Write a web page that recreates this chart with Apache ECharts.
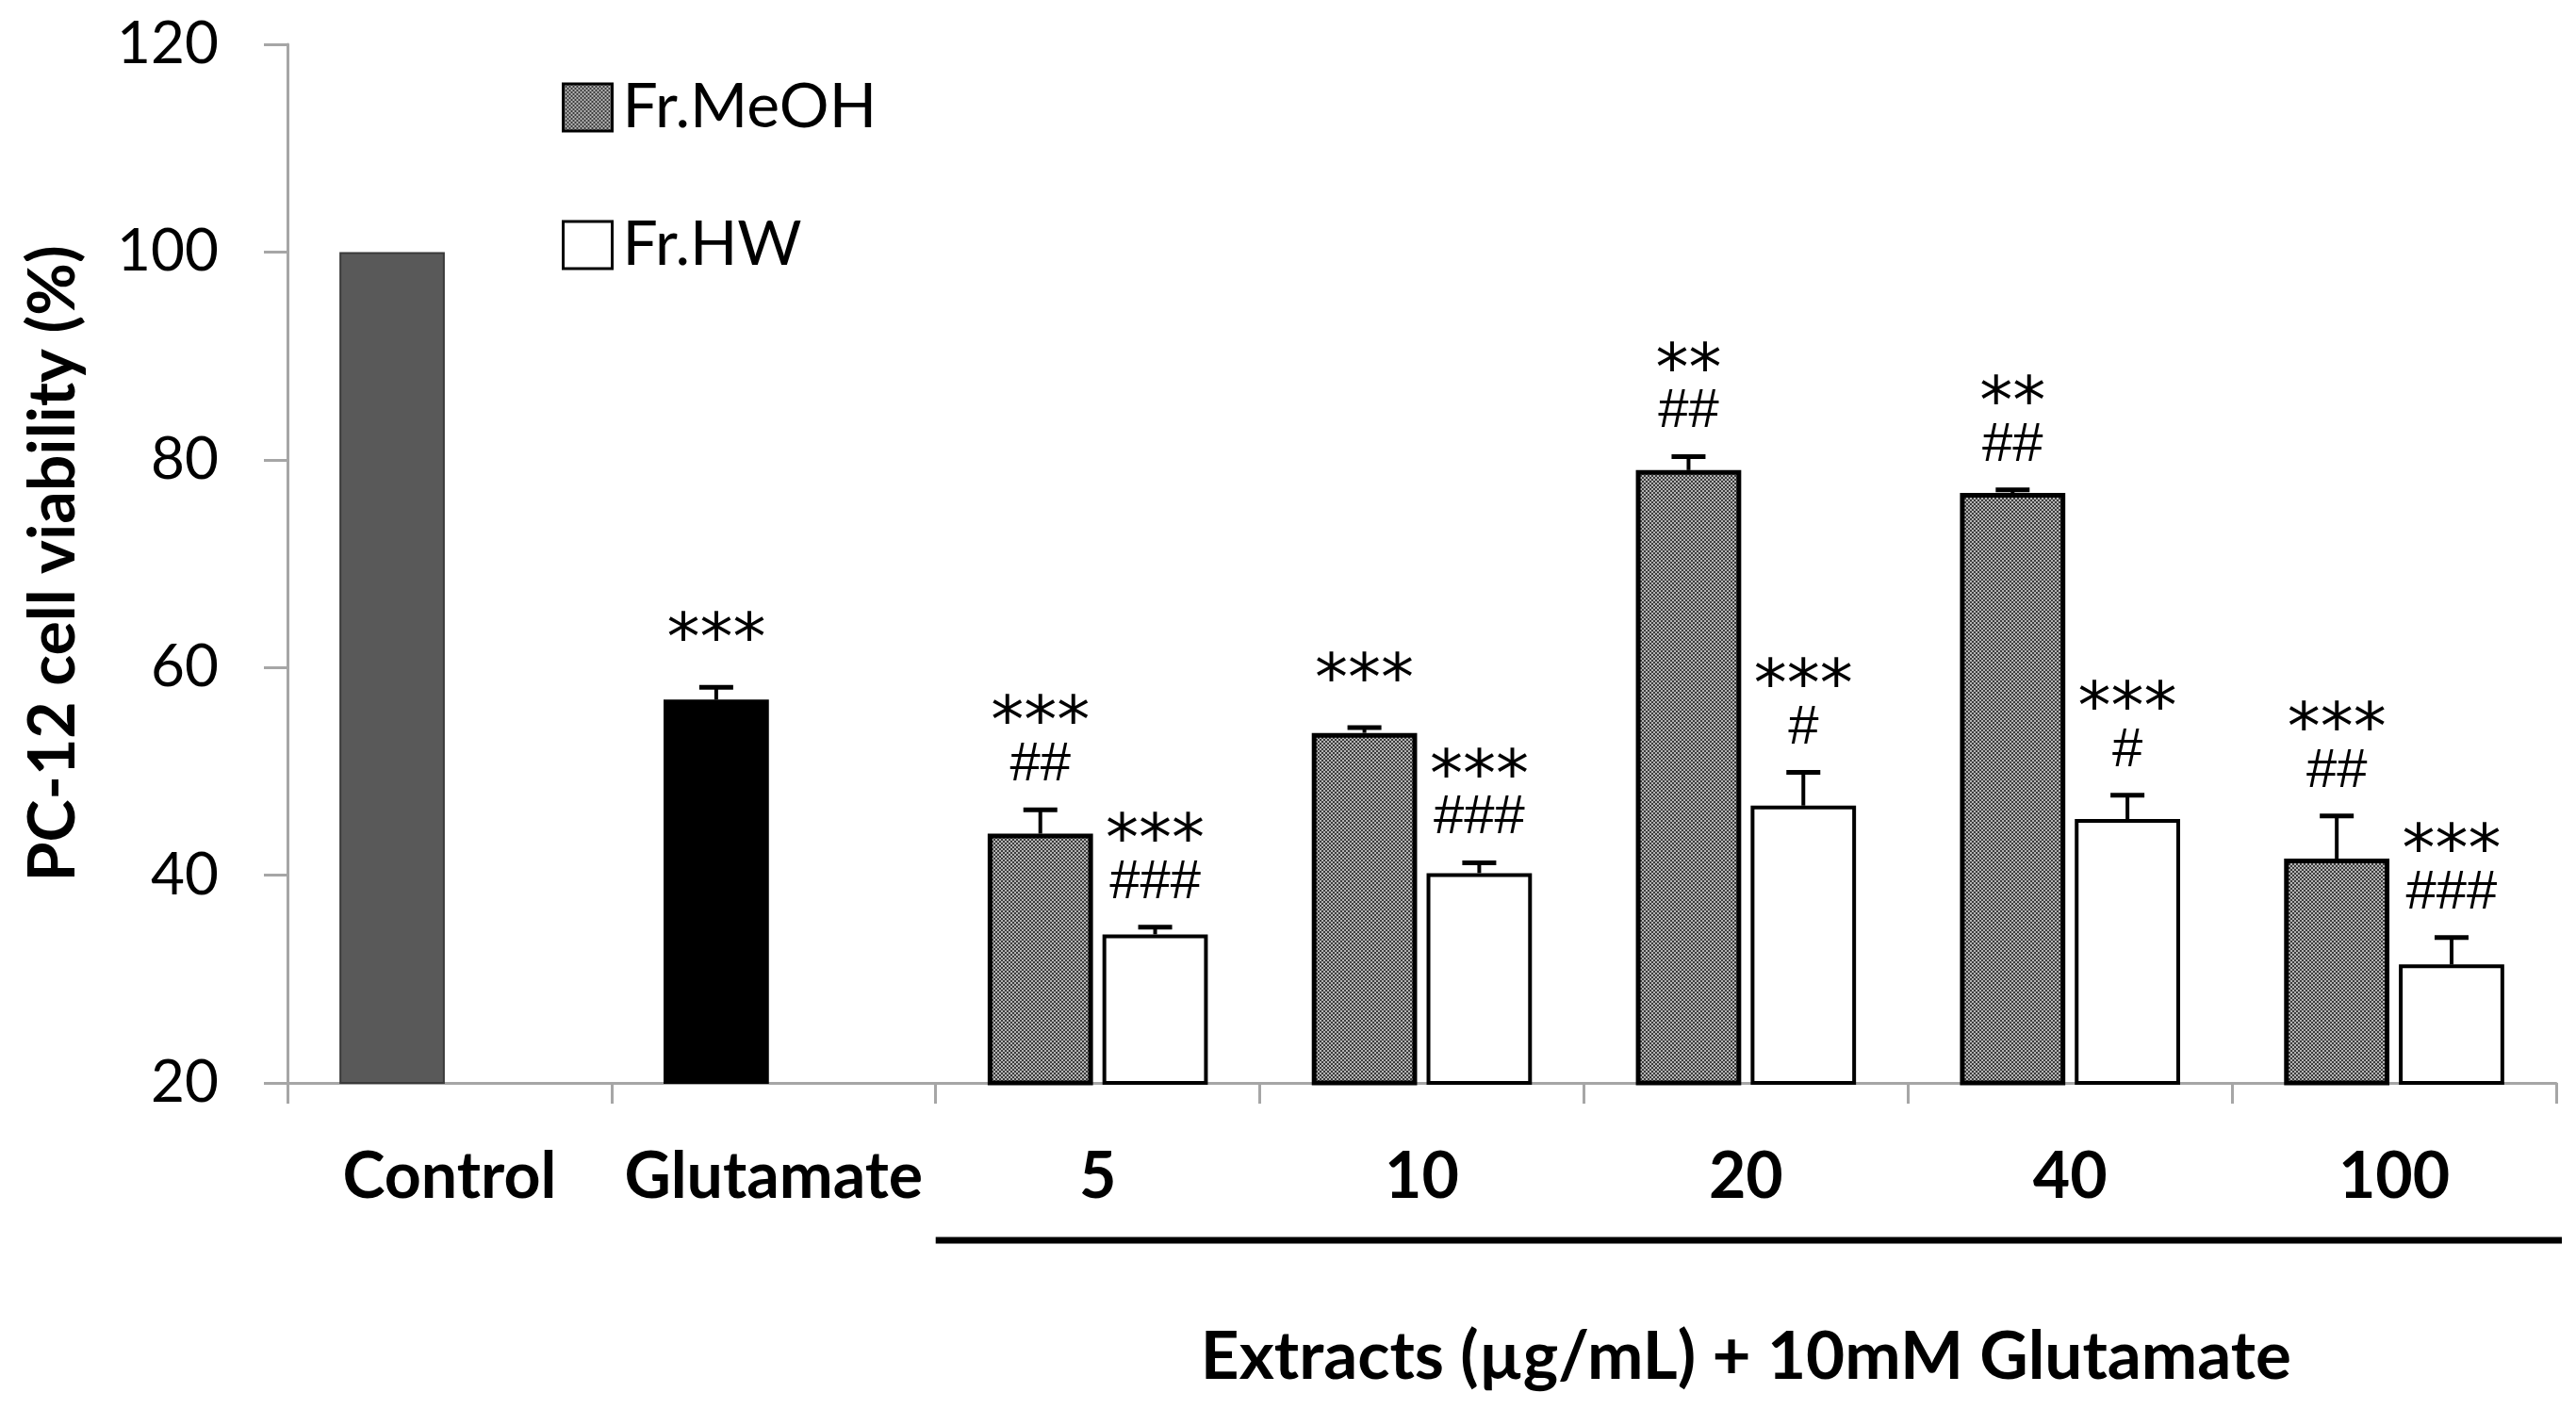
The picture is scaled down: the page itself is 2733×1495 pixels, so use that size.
<!DOCTYPE html>
<html><head><meta charset="utf-8">
<script src="https://cdn.jsdelivr.net/npm/echarts@6/dist/echarts.min.js"></script>
<style>html,body{margin:0;padding:0;background:#fff;overflow:hidden}#chart{width:2733px;height:1495px}</style>
</head><body><div id="chart"></div>
<script>
// ---- data ----
const categories = ['Control', 'Glutamate', '5', '10', '20', '40', '100'];
const meohValues = [100, 56.9, 44.0, 53.7, 79.0, 76.8, 41.6];
const meohUpper  = [null, 58.1, 46.3, 54.2, 80.3, 77.1, 45.7];
const hwValues   = [null, null, 34.3, 40.2, 46.7, 45.4, 31.4];
const hwUpper    = [null, null, 35.0, 41.2, 49.9, 47.7, 34.0];
const meohStars  = ['', '***', '***', '***', '**', '**', '***'];
const meohHashes = ['', '', '##', '', '##', '##', '##'];
const hwStars    = ['', '', '***', '***', '***', '***', '***'];
const hwHashes   = ['', '', '###', '###', '#', '#', '###'];
const yTicks = [20, 40, 60, 80, 100, 120];
const seriesNames = ['Fr.MeOH', 'Fr.HW'];
const yTitle = 'PC-12 cell viability (%)';
const xTitle = 'Extracts (µg/mL) + 10mM Glutamate';

// ---- styling constants ----
const BAR_FRAC = 0.325;   // bar width as fraction of category band
const GAP_FRAC = 0.09;    // gap between bars as fraction of bar width
const FONT = 'Lato, "Noto Sans", sans-serif';

// dotted fill pattern for Fr.MeOH
const pc = document.createElement('canvas');
pc.width = 4; pc.height = 4;
const pctx = pc.getContext('2d');
pctx.fillStyle = '#b4b4b4'; pctx.fillRect(0, 0, 4, 4);
pctx.fillStyle = '#3c3c3c';
pctx.fillRect(0, 0, 2, 2); pctx.fillRect(2, 2, 2, 2);
const pattern = { image: pc, repeat: 'repeat' };

const chart = echarts.init(document.getElementById('chart'), null, { renderer: 'canvas' });

const meohData = meohValues.map((v, i) => {
  if (i === 0) return { value: v, itemStyle: { color: '#595959', borderColor: '#3a3a3a', borderWidth: 2 } };
  if (i === 1) return { value: v, itemStyle: { color: '#000000', borderColor: '#000000', borderWidth: 2 } };
  return v;
});
const hwData = hwValues.map(v => v == null ? '-' : v);

function makeErrData(values, upper, stars, hashes) {
  const out = [];
  values.forEach((v, i) => {
    if (v == null || upper[i] == null) return;
    out.push([i, v, upper[i], stars[i], hashes[i]]);
  });
  return out;
}

const errMeoh = makeErrData(meohValues, meohUpper, meohStars, meohHashes);
const errHw = makeErrData(hwValues, hwUpper, hwStars, hwHashes);

function makeRender(slot, arr) {
  return function (params, api) {
    const c = api.value(0);
    const base = api.coord([c, api.value(1)]);
    const top = api.coord([c, api.value(2)]);
    const band = api.size([1, 0])[0];
    const bw = band * BAR_FRAC;
    const gap = bw * GAP_FRAC;
    const x = base[0] + (slot === 0 ? -1 : 1) * (bw + gap) / 2;
    const capHalf = 18;
    const rec = arr[params.dataIndex];
    const stars = rec[3];
    const hashes = rec[4];
    let txt = '';
    if (stars) txt += '{a|' + stars + '}';
    if (hashes) txt += (txt ? '\n' : '') + '{h|' + hashes + '}';
    const children = [
      { type: 'line', shape: { x1: x, y1: base[1], x2: x, y2: top[1] },
        style: { stroke: '#000', lineWidth: 4 } },
      { type: 'line', shape: { x1: x - capHalf, y1: top[1], x2: x + capHalf, y2: top[1] },
        style: { stroke: '#000', lineWidth: 5 } }
    ];
    if (txt) {
      children.push({
        type: 'text',
        style: {
          text: txt, x: x, y: top[1] - (hashes ? 22 : 30),
          align: 'center', verticalAlign: 'bottom',
          fill: '#000',
          rich: {
            a: { fontFamily: '"DejaVu Sans", sans-serif', fontSize: 70, lineHeight: 40, fill: '#000', padding: [0, 0, -6, 0] },
            h: { fontFamily: '"Liberation Sans", sans-serif', fontSize: 58, lineHeight: 50, fill: '#000' }
          }
        }
      });
    }
    return { type: 'group', children: children };
  };
}

const option = {
  animation: false,
  backgroundColor: '#ffffff',
  grid: { left: 305, right: 21, top: 47, bottom: 346, containLabel: false, outerBoundsMode: 'none' },
  legend: {
    orient: 'vertical', left: 591, top: 76,
    icon: 'rect',
    itemWidth: 52, itemHeight: 50, itemGap: 80,
    data: seriesNames,
    textStyle: { fontFamily: FONT, fontSize: 66, color: '#000', padding: [0, 0, 0, 6] },
    itemStyle: { borderColor: '#000', borderWidth: 3 }
  },
  xAxis: {
    type: 'category', data: categories,
    axisLine: { lineStyle: { color: '#a6a6a6', width: 3 } },
    axisTick: { show: true, length: 22, interval: 0, lineStyle: { color: '#a6a6a6', width: 3 } },
    axisLabel: { interval: 0, fontFamily: FONT, fontWeight: 'bold', fontSize: 68, color: '#000', margin: 66 },
    splitLine: { show: false }
  },
  yAxis: {
    type: 'value', min: yTicks[0], max: yTicks[yTicks.length - 1], interval: yTicks[1] - yTicks[0],
    name: yTitle, nameLocation: 'middle', nameGap: 214, nameRotate: 90,
    nameTextStyle: { fontFamily: FONT, fontWeight: 'bold', fontSize: 68, color: '#000' },
    axisLine: { show: true, lineStyle: { color: '#a6a6a6', width: 3 } },
    axisTick: { show: true, length: 25, lineStyle: { color: '#a6a6a6', width: 3 } },
    axisLabel: { fontFamily: FONT, fontSize: 62, color: '#000', margin: 73 },
    splitLine: { show: false }
  },
  series: [
    { name: seriesNames[0], type: 'bar', data: meohData, barWidth: (BAR_FRAC * 100) + '%', barGap: (GAP_FRAC * 100) + '%',
      itemStyle: { color: pattern, borderColor: '#000', borderWidth: 5 } },
    { name: seriesNames[1], type: 'bar', data: hwData, barWidth: (BAR_FRAC * 100) + '%', barGap: (GAP_FRAC * 100) + '%',
      itemStyle: { color: '#ffffff', borderColor: '#000', borderWidth: 4 } },
    { type: 'custom', renderItem: makeRender(0, errMeoh), data: errMeoh, z: 5, silent: true },
    { type: 'custom', renderItem: makeRender(1, errHw), data: errHw, z: 5, silent: true }
  ]
};
chart.setOption(option);

// bracket line and x-axis title, positioned from the axes
const px = (c) => chart.convertToPixel({ xAxisIndex: 0 }, c);
const band = px(categories[3]) - px(categories[2]);
const xStart = px(categories[2]) - band / 2;
const xEnd = px(categories[categories.length - 1]) + band / 2;
const yBase = chart.convertToPixel({ yAxisIndex: 0 }, yTicks[0]);
const xMid = px(categories[4]);
chart.setOption({
  graphic: [
    { type: 'line', shape: { x1: xStart, y1: yBase + 167, x2: xEnd + 6, y2: yBase + 167 },
      style: { stroke: '#000', lineWidth: 7 } },
    { type: 'text', x: xMid, y: yBase + 291,
      style: { text: xTitle, align: 'center', verticalAlign: 'middle',
        fontFamily: FONT, fontWeight: 'bold', fontSize: 71, fill: '#000' } }
  ]
});
</script>
</body></html>
